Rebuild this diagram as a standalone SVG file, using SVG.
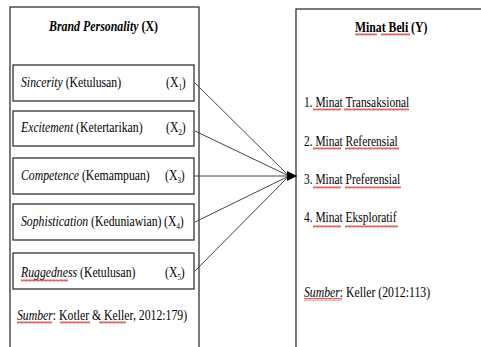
<svg xmlns="http://www.w3.org/2000/svg" width="481" height="347" viewBox="0 0 481 347">
<style>
.t{font-family:"Liberation Serif","Times New Roman",serif;font-size:14.5px;fill:#000}
.i{font-style:italic}
.b{font-weight:bold}
.s{font-size:8.5px}
.box{fill:#fff;stroke:#333;stroke-width:1.3}
.ln{stroke:#444;stroke-width:1;fill:none}
</style>
<defs>
<pattern id="wave" patternUnits="userSpaceOnUse" width="4" height="3">
<path d="M0 2.5 L1 0.5 L2 2.5 L3 0.5 L4 2.5" stroke="#d02020" stroke-width="0.7" fill="none"/>
</pattern>
<marker id="arr" markerWidth="10" markerHeight="10" refX="10" refY="5" orient="auto" markerUnits="userSpaceOnUse">
<path d="M0 0 L10 5 L0 10 Z" fill="#000"/>
</marker>
</defs>
<rect width="481" height="347" fill="#fff"/>
<g id="brand-personality">
<rect class="box" x="10" y="7" width="189" height="345"/>
<text class="t b" transform="translate(49,31) scale(0.82,1)"><tspan class="i">Brand Personality</tspan> (X)</text>
</g>
<g id="x1">
<rect class="box" x="13" y="65" width="181" height="36"/>
<text class="t" transform="translate(21,87) scale(0.81,1)"><tspan class="i">Sincerity</tspan> (Ketulusan)</text>
<text class="t" transform="translate(166,87) scale(0.81,1)">(X<tspan class="s" dy="3">1</tspan><tspan dy="-3">)</tspan></text>
</g>
<g id="x2">
<rect class="box" x="13" y="111" width="181" height="35"/>
<text class="t" transform="translate(21,132) scale(0.81,1)"><tspan class="i">Excitement</tspan> (Ketertarikan)</text>
<text class="t" transform="translate(166,132) scale(0.81,1)">(X<tspan class="s" dy="3">2</tspan><tspan dy="-3">)</tspan></text>
</g>
<g id="x3">
<rect class="box" x="13" y="158" width="181" height="36"/>
<text class="t" transform="translate(21,180) scale(0.81,1)"><tspan class="i">Competence</tspan> (Kemampuan)</text>
<text class="t" transform="translate(165,180) scale(0.81,1)">(X<tspan class="s" dy="3">3</tspan><tspan dy="-3">)</tspan></text>
</g>
<g id="x4">
<rect class="box" x="13" y="204" width="181" height="36"/>
<text class="t" transform="translate(21,226) scale(0.81,1)"><tspan class="i">Sophistication</tspan> (Keduniawian)</text>
<text class="t" transform="translate(164,226) scale(0.81,1)">(X<tspan class="s" dy="3">4</tspan><tspan dy="-3">)</tspan></text>
</g>
<g id="x5">
<rect class="box" x="13" y="253" width="181" height="36"/>
<text class="t" transform="translate(21,277) scale(0.81,1)"><tspan class="i">Ruggedness</tspan> (Ketulusan)</text>
<text class="t" transform="translate(165,277) scale(0.81,1)">(X<tspan class="s" dy="3">5</tspan><tspan dy="-3">)</tspan></text>
<rect x="21" y="279" width="47" height="3" fill="url(#wave)"/>
</g>
<g id="source-left">
<text class="t" transform="translate(17,320) scale(0.81,1)"><tspan class="i">Sumber</tspan>: Kotler &amp; Keller, 2012:179)</text>
<rect x="17" y="321" width="35" height="3" fill="url(#wave)"/>
<rect x="60" y="321" width="30" height="3" fill="url(#wave)"/>
<rect x="99" y="321" width="27" height="3" fill="url(#wave)"/>
</g>
<g id="minat-beli">
<rect class="box" x="296" y="9" width="200" height="345"/>
<text class="t b" transform="translate(355,32) scale(0.81,1)">Minat Beli (Y)</text>
<rect x="355" y="33" width="22" height="3" fill="url(#wave)"/>
<rect x="381" y="33" width="29" height="3" fill="url(#wave)"/>
<text class="t" transform="translate(304,107) scale(0.79,1)">1. Minat Transaksional</text>
<rect x="313" y="108" width="28" height="3" fill="url(#wave)"/>
<rect x="344" y="108" width="65" height="3" fill="url(#wave)"/>
<text class="t" transform="translate(304,146) scale(0.79,1)">2. Minat Referensial</text>
<rect x="313" y="147" width="28" height="3" fill="url(#wave)"/>
<rect x="345" y="147" width="54" height="3" fill="url(#wave)"/>
<text class="t" transform="translate(304,184) scale(0.79,1)">3. Minat Preferensial</text>
<rect x="313" y="186" width="28" height="3" fill="url(#wave)"/>
<rect x="345" y="186" width="56" height="3" fill="url(#wave)"/>
<text class="t" transform="translate(304,222) scale(0.79,1)">4. Minat Eksploratif</text>
<rect x="313" y="225" width="28" height="3" fill="url(#wave)"/>
<rect x="345" y="225" width="53" height="3" fill="url(#wave)"/>
<text class="t" transform="translate(304,297) scale(0.81,1)"><tspan class="i">Sumber</tspan>: Keller (2012:113)</text>
<rect x="304" y="298" width="38" height="3" fill="url(#wave)"/>
</g>
<g id="connectors">
<line class="ln" x1="195" y1="83" x2="289" y2="176"/>
<line class="ln" x1="195" y1="131" x2="289" y2="176"/>
<line class="ln" x1="195" y1="222" x2="289" y2="176"/>
<line class="ln" x1="195" y1="271" x2="289" y2="176"/>
<line class="ln" x1="194" y1="176" x2="297" y2="176" stroke="#000" marker-end="url(#arr)"/>
</g>
</svg>
